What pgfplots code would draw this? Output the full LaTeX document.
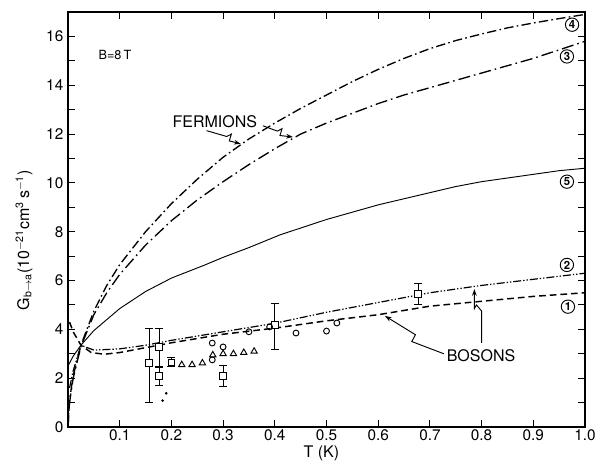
\documentclass[border=0pt]{standalone}
\usepackage{pgfplots}
\pgfplotsset{compat=1.18}
\usepackage{fontspec}
\setmainfont{TeX Gyre Heros}
\usetikzlibrary{arrows.meta}
\begin{document}
\begin{tikzpicture}[font=\fontsize{12}{14}\selectfont]
\begin{axis}[
  scale only axis, width=387.75pt, height=311.25pt,
  xmin=0, xmax=1, ymin=0, ymax=17,
  xtick={0.1,0.2,0.3,0.4,0.5,0.6,0.7,0.8,0.9,1.0},
  xticklabels={0.1,0.2,0.3,0.4,0.5,0.6,0.7,0.8,0.9,1.0},
  ytick={0,2,4,6,8,10,12,14,16}, minor ytick={1,3,5,7,9,11,13,15},
  tick align=inside, major tick length=5pt, minor tick length=5pt,
  axis line style={line width=0.9pt},
  every tick/.style={line width=0.7pt, black},
  /pgf/number format/assume math mode=true,
  tick label style={font=\fontsize{11.5}{13}\selectfont},
  xticklabel style={yshift=1.5pt},
  xlabel={T (K)},
  ylabel={G\textsubscript{b$\rightarrow$a}(10\textsuperscript{$-$21}cm\textsuperscript{3}\,s\textsuperscript{$-$1})},
  every axis x label/.style={at={(axis description cs:0.49,-0.073)}, anchor=base},
  every axis y label/.style={at={(axis description cs:-0.085,0.45)}, anchor=center, rotate=90},
  clip=false,
]
% curve 4
\addplot[black, line width=1pt, dash pattern=on 7pt off 2.5pt on 1.2pt off 2.5pt] coordinates {
(0,0)(0.003,1.1)(0.01,2.1)(0.025,3.35)(0.05,4.75)(0.075,5.8)(0.1,6.65)(0.15,8.0)(0.2,9.15)(0.25,10.15)(0.3,11.05)(0.35,11.8)(0.4,12.45)(0.45,13.05)(0.5,13.6)(0.55,14.15)(0.6,14.65)(0.65,15.1)(0.7,15.5)(0.75,15.83)(0.8,16.1)(0.85,16.35)(0.9,16.55)(0.95,16.73)(1.0,16.9)
};
% curve 3
\addplot[black, line width=1pt, dash pattern=on 9pt off 3pt on 1.2pt off 3pt] coordinates {
(0,0)(0.003,1.0)(0.01,2.0)(0.025,3.3)(0.05,4.6)(0.075,5.5)(0.1,6.25)(0.15,7.45)(0.2,8.45)(0.25,9.3)(0.3,10.05)(0.35,10.75)(0.4,11.4)(0.45,12.0)(0.5,12.45)(0.55,12.85)(0.6,13.25)(0.65,13.6)(0.7,13.9)(0.75,14.2)(0.8,14.5)(0.85,14.8)(0.9,15.1)(0.95,15.45)(1.0,15.8)
};
% curve 5
\addplot[black, line width=0.7pt] coordinates {
(0,2.5)(0.01,2.9)(0.025,3.35)(0.05,3.95)(0.1,4.85)(0.15,5.55)(0.2,6.1)(0.265,6.64)(0.3,6.95)(0.35,7.35)(0.41,7.87)(0.45,8.15)(0.5,8.5)(0.55,8.8)(0.6,9.1)(0.65,9.35)(0.7,9.6)(0.75,9.85)(0.8,10.05)(0.85,10.2)(0.9,10.35)(0.95,10.5)(1.0,10.6)
};
% curve 2
\addplot[black, line width=0.9pt, dash pattern=on 6pt off 1.5pt on 1pt off 1.5pt on 1pt off 1.5pt] coordinates {
(0.003,1.6)(0.01,2.3)(0.025,3.35)(0.05,3.15)(0.1,3.2)(0.15,3.35)(0.2,3.55)(0.3,3.9)(0.4,4.25)(0.5,4.7)(0.6,5.1)(0.7,5.5)(0.8,5.8)(0.9,6.05)(1.0,6.3)
};
% curve 1
\addplot[black, line width=1.1pt, dash pattern=on 5pt off 3pt] coordinates {
(0.003,4.3)(0.01,3.9)(0.025,3.35)(0.045,3.05)(0.07,2.98)(0.1,3.05)(0.15,3.25)(0.2,3.45)(0.3,3.8)(0.4,4.05)(0.5,4.35)(0.6,4.6)(0.7,4.95)(0.8,5.15)(0.9,5.35)(1.0,5.5)
};
% squares with error bars
\addplot[only marks, mark=square*, mark size=2.5pt, line width=0.7pt,
  mark options={fill=white, draw=black, line width=0.7pt},
  error bars/.cd, y dir=both, y explicit,
  error bar style={line width=0.7pt, black},
  error mark options={rotate=90, mark size=3pt, line width=0.7pt, black}] coordinates {
(0.157,2.62) += (0,1.43) -= (0,1.62)
(0.176,3.28) += (0,0.77) -= (0,0.83)
(0.176,2.1) += (0,0.4) -= (0,0.38)
(0.2,2.64) += (0,0.2) -= (0,0.17)
(0.3,2.1) += (0,0.44) -= (0,0.45)
(0.4,4.18) += (0,0.9) -= (0,1.02)
(0.677,5.45) += (0,0.41) -= (0,0.41)
};
% circles
\addplot[only marks, mark=o, mark size=2.2pt, mark options={line width=0.7pt, black}] coordinates {
(0.279,3.44)(0.279,2.75)(0.3,3.28)(0.35,3.9)(0.39,4.1)(0.441,3.85)(0.5,3.93)(0.52,4.26)
};
% triangles
\addplot[only marks, mark=triangle, mark size=2.7pt, mark options={line width=0.7pt, black}] coordinates {
(0.22,2.55)(0.24,2.55)(0.26,2.62)(0.28,2.95)(0.30,3.0)(0.32,3.0)(0.34,3.05)(0.36,3.1)
};
% small dots
\addplot[only marks, mark=*, mark size=0.8pt, black] coordinates {
(0.183,1.08)(0.19,1.38)
};
% texts
\node[anchor=west, font=\fontsize{9.5}{11}\selectfont] at (axis cs:0.05,15.25) {B=8\,T};
\node at (axis cs:0.284,12.5) {FERMIONS};
\node at (axis cs:0.799,2.91) {BOSONS};
% arrows
\draw[line width=0.7pt, -{Stealth[length=5pt,width=3.5pt]}] (axis cs:0.268,12.14) -- (axis cs:0.307,11.9) -- (axis cs:0.316,12.0) -- (axis cs:0.312,11.72) -- (axis cs:0.334,11.6);
\draw[line width=0.7pt, -{Stealth[length=5pt,width=3.5pt]}] (axis cs:0.377,12.34) -- (axis cs:0.405,12.12) -- (axis cs:0.414,12.22) -- (axis cs:0.41,11.94) -- (axis cs:0.435,11.88);
\draw[line width=0.7pt, -{Stealth[length=5pt,width=3.5pt]}] (axis cs:0.727,3.0) -- (axis cs:0.665,3.5) -- (axis cs:0.672,3.78) -- (axis cs:0.613,4.55);
\draw[line width=0.7pt, -{Stealth[length=5pt,width=3.5pt]}] (axis cs:0.8,3.45) -- (axis cs:0.8,4.75) -- (axis cs:0.79,5.0) -- (axis cs:0.786,4.85) -- (axis cs:0.786,5.65);
% circled numbers
\tikzset{cn/.style={circle, draw, line width=0.7pt, inner sep=0.5pt, minimum size=10pt, font=\fontsize{8.5}{9}\selectfont\bfseries}}
\node[cn] at (axis cs:0.975,16.48) {4};
\node[cn] at (axis cs:0.965,15.18) {3};
\node[cn] at (axis cs:0.965,10.05) {5};
\node[cn] at (axis cs:0.965,6.64) {2};
\node[cn] at (axis cs:0.967,4.93) {1};
\coordinate (ll) at (rel axis cs:0,0);
\coordinate (ur) at (rel axis cs:1,1);
\end{axis}
\pgfresetboundingbox
\path[use as bounding box] ([xshift=-51pt,yshift=-25.5pt]ll) rectangle ([xshift=9.75pt,yshift=9pt]ur);
\end{tikzpicture}
\end{document}
